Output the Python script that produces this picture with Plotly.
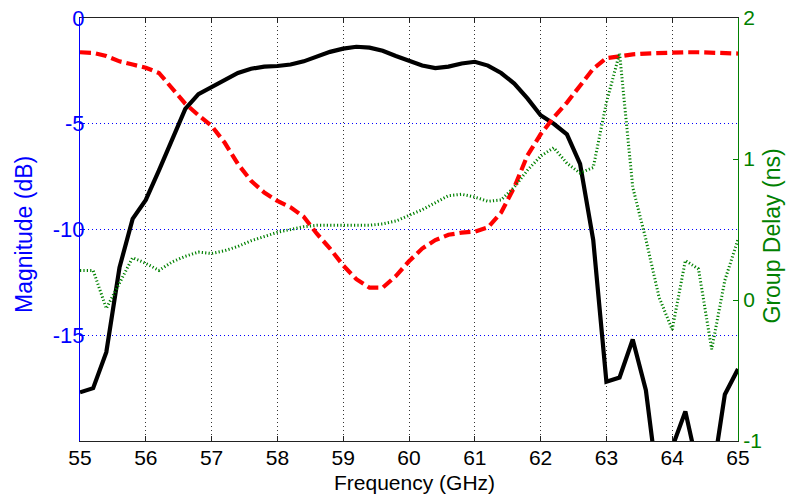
import plotly.graph_objects as go

freq = [55.0, 55.2, 55.4, 55.6, 55.8, 56.0, 56.2, 56.4, 56.6, 56.8,
        57.0, 57.2, 57.4, 57.6, 57.8, 58.0, 58.2, 58.4, 58.6, 58.8,
        59.0, 59.2, 59.4, 59.6, 59.8, 60.0, 60.2, 60.4, 60.6, 60.8,
        61.0, 61.2, 61.4, 61.6, 61.8, 62.0, 62.2, 62.4, 62.6, 62.8,
        63.0, 63.2, 63.4, 63.6, 63.8, 64.0, 64.2, 64.4, 64.6, 64.8, 65.0]

s21_db = [-17.7, -17.5, -15.8, -11.8, -9.5, -8.6, -7.2, -5.8, -4.3, -3.6,
          -3.25, -2.9, -2.6, -2.4, -2.3, -2.27, -2.2, -2.05, -1.8, -1.6,
          -1.45, -1.36, -1.4, -1.55, -1.8, -2.05, -2.25, -2.37, -2.3, -2.15,
          -2.07, -2.25, -2.6, -3.1, -3.8, -4.6, -5.0, -5.5, -6.9, -10.5,
          -17.2, -17.0, -15.2, -17.6, -22.5, -20.3, -18.6, -21.4, -21.9, -17.8, -16.6]

s11_db = [-1.62, -1.65, -1.8, -2.05, -2.2, -2.35, -2.6, -3.3, -4.05, -4.6,
          -5.1, -5.9, -6.9, -7.7, -8.25, -8.65, -8.95, -9.4, -10.2, -10.9,
          -11.7, -12.35, -12.75, -12.75, -12.2, -11.5, -10.9, -10.5, -10.25, -10.15,
          -10.1, -9.9, -9.2, -8.0, -6.5, -5.5, -4.7, -4.0, -3.2, -2.4,
          -1.9, -1.8, -1.72, -1.68, -1.65, -1.63, -1.62, -1.62, -1.63, -1.65, -1.68]

group_delay_ns = [0.21, 0.21, -0.06, 0.12, 0.30, 0.26, 0.21, 0.27, 0.31, 0.34,
                  0.33, 0.35, 0.38, 0.42, 0.45, 0.48, 0.50, 0.52, 0.53, 0.53,
                  0.53, 0.53, 0.53, 0.54, 0.56, 0.60, 0.64, 0.69, 0.74, 0.75,
                  0.73, 0.70, 0.71, 0.80, 0.92, 1.02, 1.08, 0.97, 0.90, 0.94,
                  1.40, 1.75, 0.80, 0.43, 0.02, -0.21, 0.28, 0.22, -0.35, 0.14, 0.43]

x_ticks = [55, 56, 57, 58, 59, 60, 61, 62, 63, 64, 65]
y_ticks = [-15, -10, -5, 0]
y2_ticks = [-1, 0, 1, 2]

x_title = "Frequency (GHz)"
y_title = "Magnitude (dB)"
y2_title = "Group Delay (ns)"

BLUE = "#0000FF"
GREEN = "#008000"
FONT = "Liberation Sans, Arial, sans-serif"

fig = go.Figure()
fig.add_trace(go.Scatter(x=freq, y=s21_db, mode="lines",
                         line=dict(color="black", width=4.2), showlegend=False))
fig.add_trace(go.Scatter(x=freq, y=s11_db, mode="lines",
                         line=dict(color="#FF0000", width=4.2, dash="11px,5px"),
                         showlegend=False))
fig.add_trace(go.Scatter(x=freq, y=group_delay_ns, mode="lines", yaxis="y2",
                         line=dict(color=GREEN, width=3, dash="1.2px,2.2px"),
                         showlegend=False))

fig.update_layout(
    width=790, height=495,
    margin=dict(l=80, r=52, t=18, b=54, autoexpand=False),
    paper_bgcolor="white", plot_bgcolor="white",
    font=dict(family=FONT, size=22, color="black"),
    xaxis=dict(
        range=[55, 65], tickvals=x_ticks, ticktext=[str(v) for v in x_ticks],
        showline=True, linecolor="#222222", linewidth=1, mirror="ticks",
        ticks="inside", ticklen=5, tickcolor="#222222",
        showgrid=True, gridcolor="#333333", griddash="1px,3px", gridwidth=1,
        zeroline=False,
        tickfont=dict(size=21, color="black"),
        ticklabelstandoff=-2,
        automargin=False,
    ),
    yaxis=dict(
        range=[-20, 0], tickvals=y_ticks, ticktext=[str(v) for v in y_ticks],
        showline=True, linecolor=BLUE, linewidth=1,
        ticks="inside", ticklen=5, tickcolor=BLUE,
        showgrid=True, gridcolor=BLUE, griddash="1px,3px", gridwidth=1,
        zeroline=False,
        tickfont=dict(size=22, color=BLUE),
        ticklabelstandoff=-10,
        automargin=False,
    ),
    yaxis2=dict(
        overlaying="y", side="right", anchor="x",
        range=[-1, 2], tickvals=y2_ticks, ticktext=[str(v) for v in y2_ticks],
        showline=True, linecolor=GREEN, linewidth=1,
        ticks="inside", ticklen=5, tickcolor=GREEN,
        showgrid=False, zeroline=False,
        tickfont=dict(size=21, color=GREEN),
        automargin=False,
    ),
    annotations=[
        dict(text=x_title, xref="paper", yref="paper",
             x=(414 - 80) / 658, y=-(482 - 441) / 423,
             xanchor="center", yanchor="middle", showarrow=False,
             font=dict(size=21, color="black")),
        dict(text=y_title, xref="paper", yref="paper", textangle=-90,
             x=-(80 - 24) / 658, y=(441 - 235) / 423,
             xanchor="center", yanchor="middle", showarrow=False,
             font=dict(size=23, color=BLUE)),
        dict(text=y2_title, xref="paper", yref="paper", textangle=-90,
             x=1 + (771 - 738) / 658, y=(441 - 236.5) / 423,
             xanchor="center", yanchor="middle", showarrow=False,
             font=dict(size=23, color=GREEN)),
    ],
)

fig.write_html("out.html")
